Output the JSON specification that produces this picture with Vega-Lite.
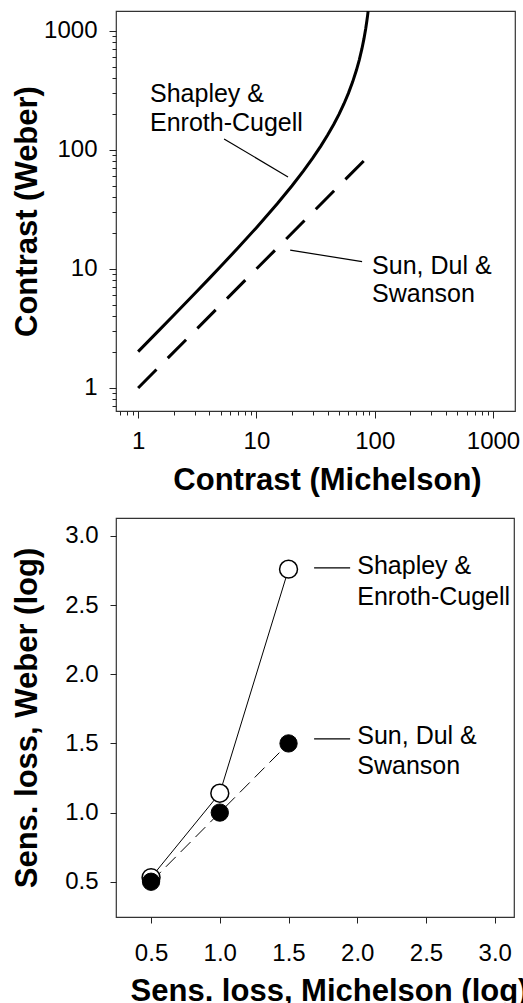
{
  "$schema": "https://vega.github.io/schema/vega-lite/v6.json",
  "padding": {"left": 10, "top": 10, "right": 0, "bottom": 0},
  "background": "white",
  "config": {
    "font": "Liberation Sans",
    "view": {"stroke": "#333", "strokeWidth": 1.2},
    "axis": {
      "domain": false,
      "grid": false,
      "labelFont": "Liberation Sans",
      "labelFontSize": 24,
      "labelColor": "black",
      "tickColor": "#222",
      "tickWidth": 1,
      "titleFont": "Liberation Sans",
      "titleFontSize": 31,
      "titleFontWeight": "bold",
      "titleColor": "black"
    }
  },
  "datasets": {
    "curve": [
      {"M": 1, "W": 2.02}, {"M": 1.5, "W": 3.046}, {"M": 2, "W": 4.082}, {"M": 3, "W": 6.186},
      {"M": 4, "W": 8.333}, {"M": 5, "W": 10.53}, {"M": 7, "W": 15.05}, {"M": 10, "W": 22.22},
      {"M": 15, "W": 35.29}, {"M": 20, "W": 50}, {"M": 25, "W": 66.67}, {"M": 30, "W": 85.71},
      {"M": 35, "W": 107.7}, {"M": 40, "W": 133.3}, {"M": 45, "W": 163.6}, {"M": 50, "W": 200},
      {"M": 55, "W": 244.4}, {"M": 60, "W": 300}, {"M": 65, "W": 371.4}, {"M": 70, "W": 466.7},
      {"M": 74, "W": 569.2}, {"M": 78, "W": 709.1}, {"M": 81, "W": 852.6}, {"M": 84, "W": 1050},
      {"M": 86, "W": 1228.6}, {"M": 87, "W": 1338.5}, {"M": 88, "W": 1466.7}
    ],
    "dashline": [{"M": 1, "W": 1}, {"M": 89, "W": 89}],
    "topLeaders": [
      {"x": 5.33, "y": 123.7, "x2": 18.5, "y2": 59.3},
      {"x": 19.3, "y": 14.4, "x2": 78.2, "y2": 11.5}
    ],
    "topLabels": [
      {"x": 1.26, "y": 295.6, "t": "Shapley &"},
      {"x": 1.26, "y": 168.6, "t": "Enroth-Cugell"},
      {"x": 95, "y": 10.6, "t": "Sun, Dul &"},
      {"x": 95, "y": 6.17, "t": "Swanson"}
    ],
    "loss": [
      {"series": "Shapley & Enroth-Cugell", "mich": 0.5, "weber": 0.53},
      {"series": "Shapley & Enroth-Cugell", "mich": 1.0, "weber": 1.14},
      {"series": "Shapley & Enroth-Cugell", "mich": 1.5, "weber": 2.76},
      {"series": "Sun, Dul & Swanson", "mich": 0.5, "weber": 0.5},
      {"series": "Sun, Dul & Swanson", "mich": 1.0, "weber": 1.0},
      {"series": "Sun, Dul & Swanson", "mich": 1.5, "weber": 1.5}
    ],
    "botLeaders": [
      {"x": 1.686, "y": 2.769, "x2": 1.948, "y2": 2.769},
      {"x": 1.686, "y": 1.533, "x2": 1.948, "y2": 1.533}
    ],
    "botLabels": [
      {"x": 2.0, "y": 2.783, "t": "Shapley &"},
      {"x": 2.0, "y": 2.559, "t": "Enroth-Cugell"},
      {"x": 2.0, "y": 1.555, "t": "Sun, Dul &"},
      {"x": 2.0, "y": 1.338, "t": "Swanson"}
    ]
  },
  "spacing": 21,
  "vconcat": [
    {
      "width": 399,
      "height": 400,
      "encoding": {
        "x": {
          "field": "M", "type": "quantitative",
          "scale": {"type": "log", "domain": [0.65, 1535], "nice": false},
          "axis": {
            "title": "Contrast (Michelson)",
            "titleX": 211,
            "titlePadding": 12,
            "values": [0.7, 0.8, 0.9, 1, 2, 3, 4, 5, 6, 7, 8, 9, 10, 20, 30, 40, 50, 60, 70, 80, 90, 100, 200, 300, 400, 500, 600, 700, 800, 900, 1000],
            "labelExpr": "indexof([1,10,100,1000], datum.value) >= 0 ? format(datum.value, 'd') : ''",
            "tickSize": {"condition": {"test": "indexof([1,10,100,1000], datum.value) >= 0", "value": 7}, "value": 4},
            "labelPadding": 11,
            "labelFlush": false
          }
        },
        "y": {
          "field": "W", "type": "quantitative",
          "scale": {"type": "log", "domain": [0.64, 1470], "nice": false},
          "axis": {
            "title": "Contrast (Weber)",
            "titleX": -73,
            "values": [0.7, 0.8, 0.9, 1, 2, 3, 4, 5, 6, 7, 8, 9, 10, 20, 30, 40, 50, 60, 70, 80, 90, 100, 200, 300, 400, 500, 600, 700, 800, 900, 1000],
            "labelExpr": "indexof([1,10,100,1000], datum.value) >= 0 ? format(datum.value, 'd') : ''",
            "tickSize": {"condition": {"test": "indexof([1,10,100,1000], datum.value) >= 0", "value": 7}, "value": 4},
            "labelPadding": 12,
            "labelFlush": false
          }
        }
      },
      "layer": [
        {
          "data": {"name": "curve"},
          "mark": {"type": "line", "color": "black", "strokeWidth": 3, "clip": true},
          "encoding": {}
        },
        {
          "data": {"name": "dashline"},
          "mark": {"type": "line", "color": "black", "strokeWidth": 3, "strokeDash": [26, 16]},
          "encoding": {}
        },
        {
          "data": {"name": "topLeaders"},
          "mark": {"type": "rule", "color": "black", "strokeWidth": 1.2},
          "encoding": {
            "x": {"field": "x", "type": "quantitative"},
            "y": {"field": "y", "type": "quantitative"},
            "x2": {"field": "x2"},
            "y2": {"field": "y2"}
          }
        },
        {
          "data": {"name": "topLabels"},
          "mark": {"type": "text", "align": "left", "baseline": "middle", "fontSize": 25, "font": "Liberation Sans", "color": "black"},
          "encoding": {
            "x": {"field": "x", "type": "quantitative"},
            "y": {"field": "y", "type": "quantitative"},
            "text": {"field": "t"}
          }
        }
      ]
    },
    {
      "width": 398,
      "height": 399,
      "encoding": {
        "x": {
          "field": "mich", "type": "quantitative",
          "scale": {"domain": [0.245, 3.14], "nice": false, "zero": false},
          "axis": {
            "title": "Sens. loss, Michelson (log)",
            "titleX": 213,
            "titlePadding": 11,
            "values": [0.5, 1.0, 1.5, 2.0, 2.5, 3.0],
            "format": ".1f",
            "tickSize": 6,
            "labelPadding": 18,
            "labelFlush": false
          }
        },
        "y": {
          "field": "weber", "type": "quantitative",
          "scale": {"domain": [0.245, 3.13], "nice": false, "zero": false},
          "axis": {
            "title": "Sens. loss, Weber (log)",
            "titleX": -73,
            "values": [0.5, 1.0, 1.5, 2.0, 2.5, 3.0],
            "format": ".1f",
            "tickSize": 6,
            "labelPadding": 12,
            "labelFlush": false
          }
        }
      },
      "layer": [
        {
          "data": {"name": "loss"},
          "transform": [{"filter": "datum.series === 'Shapley & Enroth-Cugell'"}],
          "mark": {"type": "line", "color": "black", "strokeWidth": 1},
          "encoding": {}
        },
        {
          "data": {"name": "loss"},
          "transform": [{"filter": "datum.series === 'Sun, Dul & Swanson'"}],
          "mark": {"type": "line", "color": "black", "strokeWidth": 1, "strokeDash": [14, 7]},
          "encoding": {}
        },
        {
          "data": {"name": "loss"},
          "transform": [{"filter": "datum.series === 'Shapley & Enroth-Cugell'"}],
          "mark": {"type": "point", "shape": "circle", "filled": true, "fill": "white", "stroke": "black", "strokeWidth": 1.5, "size": 320, "opacity": 1},
          "encoding": {}
        },
        {
          "data": {"name": "loss"},
          "transform": [{"filter": "datum.series === 'Sun, Dul & Swanson'"}],
          "mark": {"type": "point", "shape": "circle", "filled": true, "fill": "black", "stroke": "black", "strokeWidth": 1, "size": 300, "opacity": 1},
          "encoding": {}
        },
        {
          "data": {"name": "botLeaders"},
          "mark": {"type": "rule", "color": "black", "strokeWidth": 1.2},
          "encoding": {
            "x": {"field": "x", "type": "quantitative"},
            "y": {"field": "y", "type": "quantitative"},
            "x2": {"field": "x2"},
            "y2": {"field": "y2"}
          }
        },
        {
          "data": {"name": "botLabels"},
          "mark": {"type": "text", "align": "left", "baseline": "middle", "fontSize": 25, "font": "Liberation Sans", "color": "black"},
          "encoding": {
            "x": {"field": "x", "type": "quantitative"},
            "y": {"field": "y", "type": "quantitative"},
            "text": {"field": "t"}
          }
        }
      ]
    }
  ]
}
